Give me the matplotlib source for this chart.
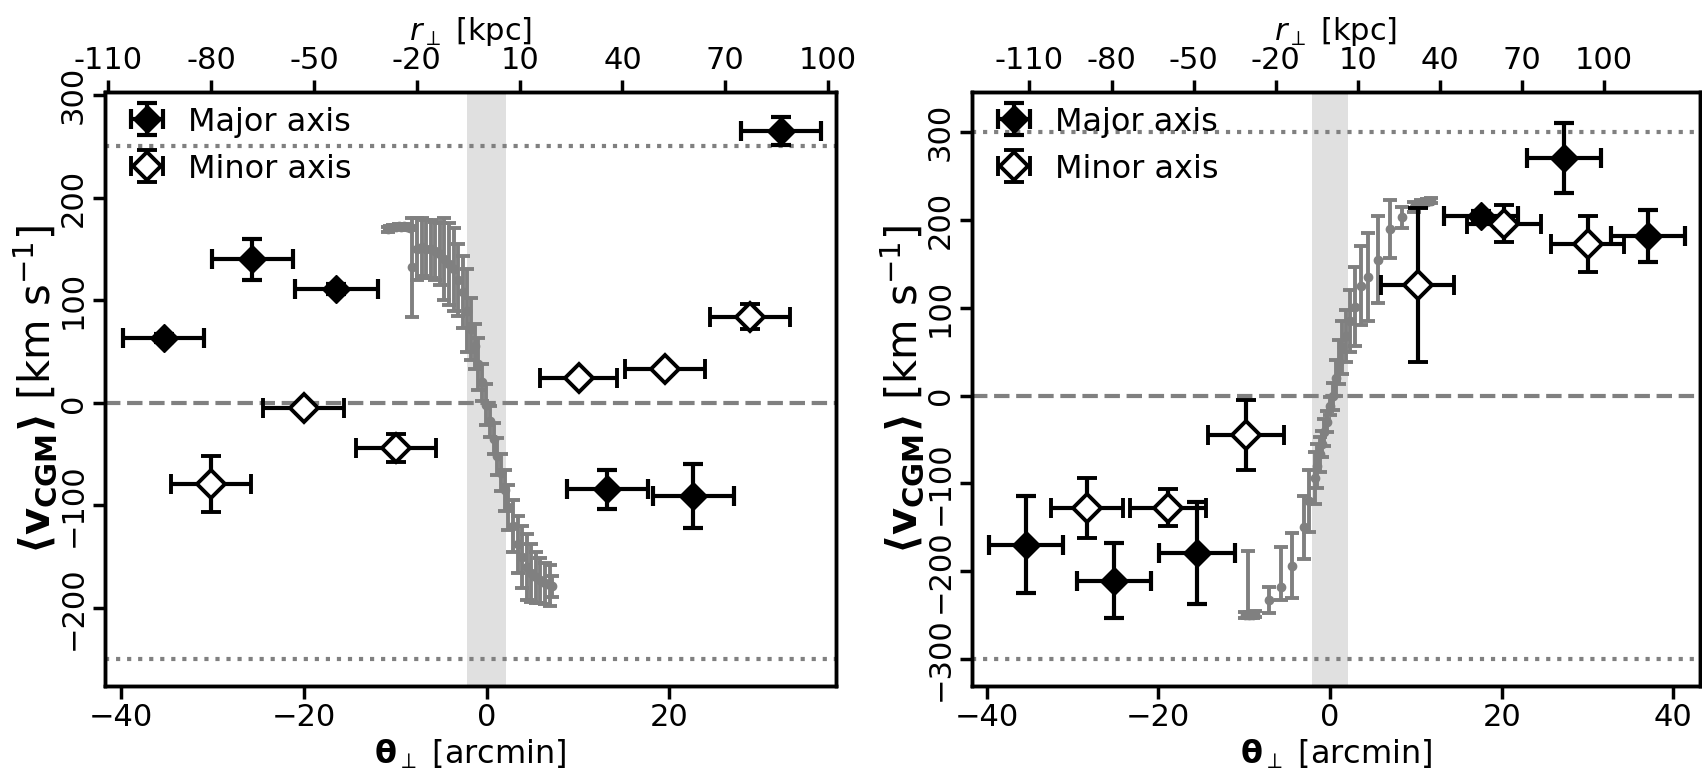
import matplotlib
matplotlib.use("Agg")
import matplotlib.pyplot as plt

# ---------------- data: left panel ----------------
L_major_x = [-35.3, -25.6, -16.4, 13.2, 22.6, 32.2]
L_major_y = [63, 140, 111, -84, -91, 265]
L_major_xerr = [4.4, 4.4, 4.5, 4.4, 4.4, 4.4]
L_major_yerr = [4, 20, 5, 19, 31, 14]

L_minor_x = [-30.1, -20.0, -9.9, 10.1, 19.5, 28.8]
L_minor_y = [-79, -5, -44, 24, 33, 84]
L_minor_xerr = [4.4, 4.4, 4.4, 4.2, 4.4, 4.4]
L_minor_yerr = [27, 5, 14, 5, 5, 12]

L_rot_x = [-10.8, -10.5, -10.2, -9.9, -9.6, -9.3, -9.0, -8.7, -8.4, -8.1, -7.6, -7.1,
           -6.6, -6.1, -5.6, -5.1, -4.6, -4.1, -3.6, -3.1, -2.6, -2.1, -1.7, -1.3,
           -0.9, -0.5, -0.1, 0.4, 0.8, 1.2, 1.6, 2.0, 2.4, 2.9, 3.4, 3.9, 4.4, 4.9,
           5.4, 5.9, 6.4, 6.9, 7.2]
L_rot_y = [169, 170, 171, 171, 172, 171, 172, 171, 170, 132, 150, 152,
           150, 150, 148, 145, 140, 135, 130, 120, 108, 90, 72, 55,
           38, 20, -2, -18, -35, -52, -68, -85, -102, -120, -138, -150, -160, -166,
           -170, -173, -176, -178, -179]
L_rot_err = [2, 2, 2, 2, 2, 2, 2, 2, 2, 48, 30, 28,
             28, 28, 28, 30, 40, 40, 40, 35, 35, 40, 30, 22,
             25, 18, 20, 15, 15, 18, 18, 20, 22, 25, 28, 30, 32, 28,
             25, 22, 20, 20, 10]

L_xlim = (-41.7, 38.2)
L_ylim = (-276, 303)
L_top_xlim = (-111.0, 102.3)
L_xticks = [-40, -20, 0, 20]
L_yticks = [-200, -100, 0, 100, 200, 300]
L_vlim = 250

# ---------------- data: right panel ----------------
R_major_x = [-35.4, -25.2, -15.5, 17.6, 27.3, 37.0]
R_major_y = [-170, -211, -179, 205, 271, 182]
R_major_xerr = [4.3, 4.3, 4.4, 4.3, 4.3, 4.3]
R_major_yerr = [55, 43, 58, 5, 40, 30]

R_minor_x = [-28.3, -18.9, -9.8, 10.2, 20.3, 30.0]
R_minor_y = [-128, -128, -45, 126, 196, 173]
R_minor_xerr = [4.2, 4.4, 4.4, 4.3, 4.3, 4.3]
R_minor_yerr = [34, 21, 40, 88, 21, 32]

R_rot_x = [-9.9, -9.6, -9.3, -9.0, -8.7, -7.05, -5.7, -4.4, -3.06, -2.4, -1.8,
           -1.5, -1.2, -0.9, -0.65, -0.35, 0.0, 0.3, 0.7, 1.07, 1.45, 1.84, 2.3,
           2.9, 3.6, 4.4, 5.6, 7.0, 8.4, 9.8, 10.6, 11.3, 11.8]
R_rot_y = [-250, -250, -250, -250, -249, -233, -218, -194, -150, -120, -94,
           -80, -67, -55, -42, -30, -12, -1, 20, 38, 55, 68, 85,
           101, 125, 135, 155, 190, 203, 215, 220, 221, 222]
R_rot_err_lo = [3, 3, 3, 3, 3, 15, 15, 37, 36, 35, 30,
                25, 20, 15, 15, 12, 10, 15, 20, 25, 30, 30, 35,
                45, 45, 50, 50, 33, 12, 6, 3, 3, 3]
R_rot_err_hi = [3, 73, 3, 3, 3, 15, 45, 37, 36, 35, 30,
                25, 20, 15, 15, 12, 10, 15, 20, 25, 30, 30, 35,
                45, 45, 50, 50, 33, 12, 6, 3, 3, 3]

R_xlim = (-41.7, 43.1)
R_ylim = (-331, 346)
R_top_xlim = (-131.0, 135.0)
R_xticks = [-40, -20, 0, 20, 40]
R_yticks = [-300, -200, -100, 0, 100, 200, 300]
R_vlim = 300

# shared
kpc_ticks = [-110, -80, -50, -20, 10, 40, 70, 100]
kpc_labels = ["-110", "-80", "-50", "-20", "10", "40", "70", "100"]
band_halfwidth = 2.1

TICK_FS = 22
XLABEL_FS = 23
YLABEL_FS = 30
TOPLABEL_FS = 22
LEG_FS = 23
GRAY = "#808080"

fig = plt.figure(figsize=(17.02, 7.76), dpi=100)
W, H = 1702.0, 776.0
axL = fig.add_axes([105 / W, (H - 686) / H, 731 / W, 594 / H])
axR = fig.add_axes([972 / W, (H - 686) / H, 728 / W, 594 / H])


def draw_panel(ax, mjx, mjy, mjxe, mjye, mnx, mny, mnxe, mnye,
               rx, ry, ryerr, xlim, ylim, top_xlim, xticks, yticks, vlim):
    ax.axvspan(-band_halfwidth, band_halfwidth, color="#e0e0e0", lw=0, zorder=0)
    ax.axhline(0, color=GRAY, ls="--", lw=3, zorder=1)
    ax.axhline(vlim, color=GRAY, ls=":", lw=3, zorder=1)
    ax.axhline(-vlim, color=GRAY, ls=":", lw=3, zorder=1)

    ax.errorbar(rx, ry, yerr=ryerr, fmt="o", color=GRAY, ms=6,
                elinewidth=2.8, capsize=5, capthick=2.8, zorder=2)

    ax.errorbar(mjx, mjy, xerr=mjxe, yerr=mjye, fmt="D", color="k",
                mfc="k", mec="k", ms=14, elinewidth=3, capsize=7,
                capthick=3, zorder=4, label="Major axis")
    ax.errorbar(mnx, mny, xerr=mnxe, yerr=mnye, fmt="D", color="k",
                mfc="white", mec="k", mew=2.8, ms=14, elinewidth=3,
                capsize=7, capthick=3, zorder=4, label="Minor axis")

    ax.set_xticks(xticks)
    ax.set_yticks(yticks)
    ax.set_xlim(*xlim)
    ax.set_ylim(*ylim)
    ax.tick_params(axis="both", labelsize=TICK_FS, width=2.5, length=9,
                   direction="out")
    ax.tick_params(axis="y", labelrotation=90)
    for lbl in ax.get_yticklabels():
        lbl.set_va("center")
    for sp in ax.spines.values():
        sp.set_linewidth(2.5)

    ax.set_xlabel(r"$\mathbf{\theta}_{\perp}$ [arcmin]", fontsize=XLABEL_FS)
    ax.set_ylabel(r"$\mathbf{\langle v_{CGM}\rangle}$ [km s$^{-1}$]",
                  fontsize=YLABEL_FS, labelpad=0)

    ax.legend(loc="upper left", frameon=False, fontsize=LEG_FS,
              handlelength=1.2, handletextpad=0.7, labelspacing=0.5,
              borderaxespad=0.3, bbox_to_anchor=(0.0, 1.013))

    top = ax.twiny()
    top.set_xticks(kpc_ticks)
    top.set_xticklabels(kpc_labels)
    top.set_xlim(*top_xlim)
    top.tick_params(axis="x", labelsize=TICK_FS, width=2.5, length=9,
                    direction="out")
    for sp in top.spines.values():
        sp.set_linewidth(2.5)
    top.set_xlabel(r"$r_{\perp}$ [kpc]", fontsize=TOPLABEL_FS)
    return top


draw_panel(axL, L_major_x, L_major_y, L_major_xerr, L_major_yerr,
           L_minor_x, L_minor_y, L_minor_xerr, L_minor_yerr,
           L_rot_x, L_rot_y, L_rot_err, L_xlim, L_ylim, L_top_xlim,
           L_xticks, L_yticks, L_vlim)
draw_panel(axR, R_major_x, R_major_y, R_major_xerr, R_major_yerr,
           R_minor_x, R_minor_y, R_minor_xerr, R_minor_yerr,
           R_rot_x, R_rot_y, [R_rot_err_lo, R_rot_err_hi], R_xlim, R_ylim,
           R_top_xlim, R_xticks, R_yticks, R_vlim)

fig.savefig("out.png", dpi=100)
